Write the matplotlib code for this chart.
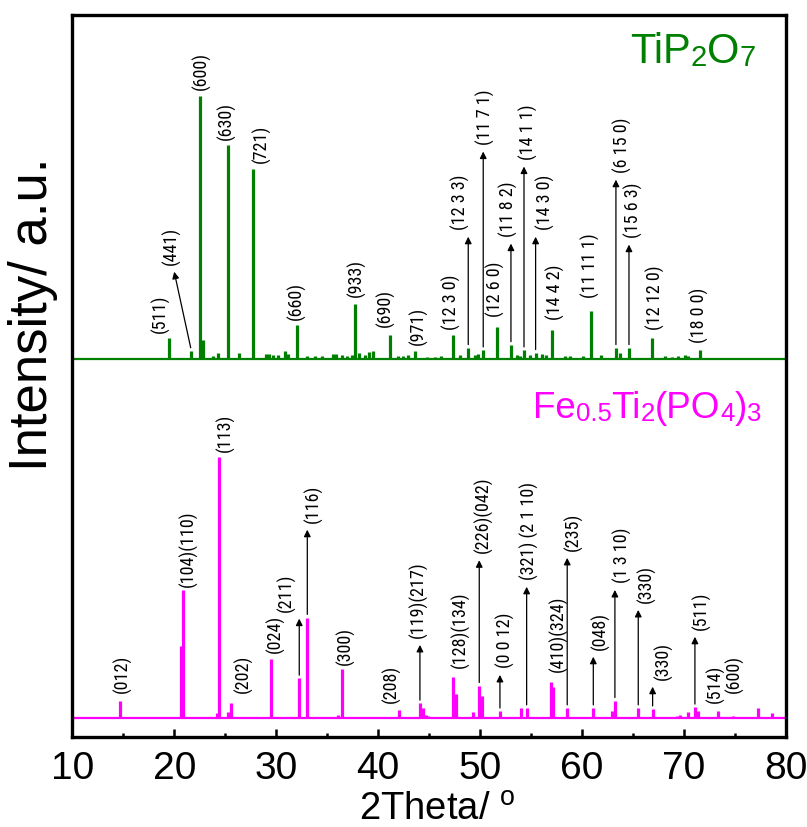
import matplotlib
matplotlib.use("Agg")
import matplotlib.pyplot as plt
import numpy as np
from matplotlib import font_manager
from matplotlib.font_manager import FontProperties

# ------------------------------------------------------------------ data
# TiP2O7 reference pattern (2theta, relative intensity %)
tip_theta = [19.47, 21.6, 22.5, 22.8, 23.75, 24.3, 25.26, 26.37, 27.69, 29.0,
             29.3, 29.7, 30.2, 30.85, 31.17, 32.06, 32.97, 33.8, 34.45, 35.6,
             35.9, 36.4, 36.9, 37.4, 37.72, 38.14, 38.7, 39.1, 39.5, 41.15,
             41.97, 42.45, 42.95, 43.6, 44.75, 45.56, 46.2, 47.36, 48.0, 48.83,
             49.5, 49.8, 50.3, 51.68, 53.02, 53.58, 53.9, 54.3, 54.88, 55.44,
             56.03, 56.5, 57.0, 58.3, 58.8, 60.1, 60.87, 61.9, 63.32, 63.7,
             64.6, 66.88, 68.13, 68.8, 69.43, 70.1, 70.4, 71.56]
tip_int = [8.0, 3.0, 100, 7.2, 1.1, 2.3, 81.4, 2.3, 72.2, 2.0,
           2.0, 1.5, 1.5, 2.9, 2.0, 12.9, 1.0, 1.0, 1.0, 2.0,
           2.0, 1.3, 1.0, 1.6, 21.0, 2.3, 1.3, 2.5, 2.9, 9.0,
           1.0, 1.0, 1.3, 2.9, 0.8, 0.8, 1.0, 9.2, 1.3, 4.2,
           1.6, 2.0, 3.3, 12.2, 5.3, 1.6, 1.0, 3.3, 1.6, 2.3,
           2.0, 1.3, 11.1, 1.0, 1.0, 1.0, 18.1, 1.3, 4.2, 2.3,
           4.2, 8.0, 1.0, 0.8, 1.0, 1.3, 1.0, 3.2]

# Fe0.5Ti2(PO4)3 reference pattern (2theta, relative intensity %)
fe_theta = [14.66, 20.64, 20.81, 24.15, 24.4, 25.29, 25.55, 29.47, 32.25, 33.04,
            36.08, 36.47, 38.6, 42.06, 44.09, 44.36, 44.65, 44.9, 47.36, 47.62,
            49.32, 49.91, 50.14, 51.94, 53.97, 54.56, 56.91, 57.1, 58.54, 61.1,
            62.9, 63.22, 65.51, 66.92, 69.28, 69.6, 70.41, 71.07, 71.4, 73.36,
            74.83, 77.28, 78.6]
fe_int = [6.7, 27.3, 48.8, 1.9, 99.5, 2.5, 6.0, 22.6, 15.2, 38.3,
          1.3, 18.8, 0.4, 3.0, 5.7, 3.8, 1.3, 1.0, 15.8, 9.2,
          2.3, 12.4, 8.6, 2.7, 3.9, 3.9, 13.7, 11.8, 3.9, 3.9,
          2.9, 6.7, 3.9, 3.5, 1.0, 1.4, 2.3, 4.2, 2.7, 2.7,
          1.0, 3.9, 1.9]

# Miller-index labels: text, label x (2theta), label bottom (intensity units),
# peak (2theta) pointed to by an arrow, or None
tip_labels = [
    ("(511)", 18.58, 9.9, None),
    ("(441)", 19.73, 35.7, 21.6),
    ("(600)", 22.68, 102.3, None),
    ("(630)", 25.13, 83.3, None),
    ("(721)", 28.56, 74.5, None),
    ("(660)", 31.93, 14.8, None),
    ("(933)", 37.88, 23.6, None),
    ("(690)", 40.66, 12.0, None),
    ("(971)", 43.93, 5.3, None),
    ("(12 3 0)", 47.2, 11.0, None),
    ("(12 3 3)", 48.02, 49.0, 48.83),
    ("(11 7 1)", 50.47, 81.4, 50.3),
    ("(12 6 0)", 51.45, 16.0, None),
    ("(11 8 2)", 52.82, 46.4, 53.02),
    ("(14 1 1)", 54.69, 75.7, 54.3),
    ("(14 3 0)", 56.45, 49.0, 55.44),
    ("(14 4 2)", 57.34, 14.8, None),
    ("(11 11 1)", 60.77, 23.2, None),
    ("(6 15 0)", 64.0, 70.7, 63.32),
    ("(15 6 3)", 64.99, 46.0, 64.6),
    ("(12 12 0)", 67.15, 11.0, None),
    ("(18 0 0)", 71.56, 6.1, None),
]
fe_labels = [
    ("(012)", 14.92, 9.6, None),
    ("(104)(110)", 21.36, 50.0, None),
    ("(113)", 24.96, 101.4, None),
    ("(202)", 26.76, 9.6, None),
    ("(024)", 29.87, 24.8, None),
    ("(211)", 31.01, 40.5, 32.25),
    ("(116)", 33.62, 74.3, 33.04),
    ("(300)", 36.73, 20.3, None),
    ("(208)", 41.32, 5.8, None),
    ("(119)(217)", 43.93, 30.5, 44.09),
    ("(128)(134)", 48.02, 19.1, None),
    ("(226)(042)", 50.3, 62.7, 49.91),
    ("(0 0 12)", 52.43, 19.1, 51.94),
    ("(321) (2 1 10)", 54.88, 52.6, 54.3),
    ("(410)(324)", 57.66, 17.6, None),
    ("(235)", 59.13, 63.6, 58.54),
    ("(048)", 61.75, 26.0, 61.1),
    ("(1 3 10)", 63.96, 51.4, 63.22),
    ("(330)", 66.33, 43.8, 65.51),
    ("(330)", 67.96, 14.6, 66.92),
    ("(511)", 71.73, 33.6, 71.07),
    ("(514)", 73.05, 5.8, None),
    ("(600)", 74.95, 9.6, None),
]

x_ticks = [10, 20, 30, 40, 50, 60, 70, 80]
tip_title = [("TiP", 1.0), ("2", 0.7), ("O", 1.0), ("7", 0.7)]
fe_title = [("Fe", 1.0), ("0.5", 0.7), ("Ti", 1.0), ("2", 0.7), ("(PO", 1.0),
            ("4", 0.7), (")", 1.0), ("3", 0.7)]

# ------------------------------------------------------------------ style
GREEN = "#008000"
PINK = "#FF00FF"
TIP_OFFSET = 136.7

flist = font_manager.fontManager.ttflist
names = {f.name for f in flist}
MAIN_FONT = "Liberation Sans" if "Liberation Sans" in names else "DejaVu Sans"


def pick_label_font():
    prefs = ["NotoSans-ExtraCondensed.", "NotoSans-Condensed.",
             "LiberationSansNarrow-Regular", "RobotoCondensed-Regular",
             "OpenSans_Condensed-Regular", "OpenSansCondensed-Regular",
             "DejaVuSansCondensed.ttf", "NotoSans-SemiCondensed."]
    for key in prefs:
        for f in flist:
            if key in f.fname.replace("\\", "/").split("/")[-1]:
                return FontProperties(fname=f.fname)
    return FontProperties(family=MAIN_FONT)


LABEL_FP = pick_label_font()

plt.rcParams["font.family"] = [MAIN_FONT, "DejaVu Sans"]
plt.rcParams["mathtext.fontset"] = "custom"
plt.rcParams["mathtext.rm"] = MAIN_FONT

fig = plt.figure(figsize=(8.07, 8.27), dpi=100)
ax = fig.add_axes([0.0898, 0.1092, 0.8841, 0.8726])

# size the index labels so that "(600)" is about 38 px long
renderer = fig.canvas.get_renderer()
probe = fig.text(0, 0, "(600)", fontproperties=LABEL_FP, fontsize=10)
w10 = probe.get_window_extent(renderer).width
probe.remove()
LABEL_SIZE = min(20.0, 10.0 * 38.0 / w10)

# baselines
ax.plot([10, 80], [TIP_OFFSET, TIP_OFFSET], color=GREEN, lw=1.6, zorder=2)
ax.plot([10, 80], [0, 0], color=PINK, lw=1.6, zorder=2)
# peaks
ax.vlines(tip_theta, TIP_OFFSET, TIP_OFFSET + np.array(tip_int), color=GREEN,
          lw=2.3, zorder=3)
ax.vlines(fe_theta, 0, np.array(fe_int), color=PINK, lw=2.3, zorder=3)


def put_labels(labels, theta, inten, offset):
    theta = np.asarray(theta)
    inten = np.asarray(inten)
    for text, lx, ly, peak in labels:
        ax.text(lx, offset + ly, text, rotation=90, ha="center", va="bottom",
                fontproperties=LABEL_FP, fontsize=LABEL_SIZE, color="black",
                zorder=5)
        if peak is not None:
            i = int(np.argmin(np.abs(theta - peak)))
            tail = (theta[i], offset + inten[i] + 1.2)
            hx = theta[i] if abs(theta[i] - lx) < 1.5 else lx + 0.25
            head = (hx, offset + ly - 2.6)
            ax.annotate("", xy=head, xytext=tail, zorder=4,
                        arrowprops=dict(arrowstyle="-|>", color="black", lw=0.9,
                                        mutation_scale=10, shrinkA=0, shrinkB=0))


put_labels(tip_labels, tip_theta, tip_int, TIP_OFFSET)
put_labels(fe_labels, fe_theta, fe_int, 0.0)


def rich_text(x, y, parts, color, size):
    first = ax.text(x, y, parts[0][0], transform=ax.transAxes, color=color,
                    fontsize=size * parts[0][1], ha="left", va="bottom")
    prev = first
    for s, scale in parts[1:]:
        prev = ax.annotate(s, xy=(1, 0), xycoords=(prev, first), color=color,
                           fontsize=size * scale, ha="left", va="bottom")


rich_text(0.7814, 0.921, tip_title, GREEN, 30)
rich_text(0.6454, 0.431, fe_title, PINK, 26.5)

# axes
ax.set_xlim(10, 80)
ax.set_ylim(-7.0, 267.4)
ax.set_xticks(x_ticks)
ax.set_xticks(np.arange(15, 80, 10), minor=True)
ax.set_yticks([])
ax.tick_params(axis="x", which="major", direction="in", length=6, width=1.8,
               labelsize=28, pad=10, top=False)
ax.tick_params(axis="x", which="minor", direction="in", length=3, width=1.8,
               top=False)
for sp in ax.spines.values():
    sp.set_linewidth(2.4)
    sp.set_color("black")

ax.set_xlabel(r"2Theta/ $^{\mathregular{o}}$", fontsize=27.5)
ax.xaxis.set_label_coords(0.5116, -0.0765)
ax.xaxis.label.set_va("top")
ax.set_ylabel("Intensity/ a.u.", fontsize=38)
ax.yaxis.label.set_va("center")
ax.yaxis.set_label_coords(-0.0554, 0.586)

fig.savefig("out.png", dpi=100)
